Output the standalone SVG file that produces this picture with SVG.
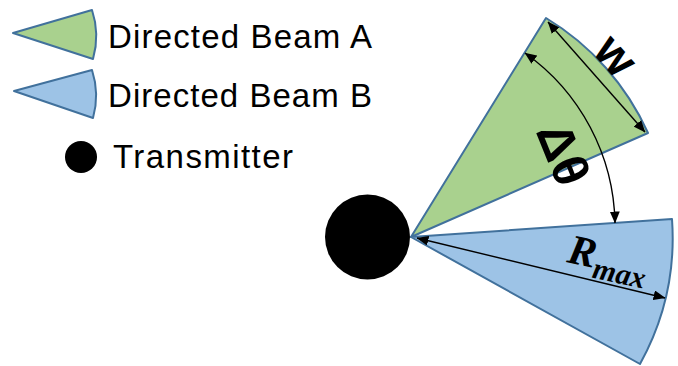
<svg xmlns="http://www.w3.org/2000/svg" width="678" height="366" viewBox="0 0 678 366">
<style>
.leg{font-family:"Liberation Sans","Open Sans",Arial,sans-serif;font-size:33px;fill:#000}
.beamA{fill:#A9D18E;stroke:#41719C;stroke-width:2;stroke-linejoin:round}
.beamB{fill:#9DC3E6;stroke:#41719C;stroke-width:2;stroke-linejoin:round}
.dim{fill:none;stroke:#000;stroke-width:1.4}
.sym{font-family:"Liberation Serif","DejaVu Serif",serif;font-weight:bold;fill:#000}
</style>
<defs>
<marker id="ah" viewBox="0 0 12 10" refX="11.5" refY="5" markerWidth="12" markerHeight="10" markerUnits="userSpaceOnUse" orient="auto-start-reverse">
<path d="M0,0 L12,5 L0,10 z" fill="#000"/>
</marker>
</defs>
<rect width="678" height="366" fill="#fff"/>
<g id="legend">
<g id="legend-beam-a">
<path class="beamA" d="M13,33 L92,10 A83,83 0 0 1 93,59 Z"/>
<text class="leg" x="108" y="48" textLength="264">Directed Beam A</text>
</g>
<g id="legend-beam-b">
<path class="beamB" d="M14,91 L92,70 A83,83 0 0 1 93,118 Z"/>
<text class="leg" x="108" y="107" textLength="264">Directed Beam B</text>
</g>
<g id="legend-transmitter">
<circle cx="81" cy="157" r="16" fill="#000"/>
<text class="leg" x="113" y="168" textLength="180">Transmitter</text>
</g>
</g>
<g id="beam-a">
<path class="beamA" d="M411,237 L546,18 A258,258 0 0 1 648,133 Z"/>
</g>
<g id="beam-b">
<path class="beamB" d="M411,237 L672,219 A261,261 0 0 1 640,364 Z"/>
</g>
<g id="transmitter">
<circle cx="367.5" cy="237" r="42.5" fill="#000"/>
</g>
<g id="connectors">
<path class="dim" d="M548,22 L645,132" marker-start="url(#ah)" marker-end="url(#ah)"/>
<path class="dim" d="M525,53 A213.5,213.5 0 0 1 615,223" marker-start="url(#ah)" marker-end="url(#ah)"/>
<path class="dim" d="M417,238 L665,298" marker-start="url(#ah)" marker-end="url(#ah)"/>
</g>
<g id="labels">
<text font-family="'Liberation Sans',Arial,sans-serif" font-weight="bold" font-size="48" transform="translate(612,59) rotate(48.6)" text-anchor="middle" dy="11">w</text>
<text font-family="'Liberation Sans',Arial,sans-serif" font-weight="bold" font-size="50" transform="translate(563,154) rotate(68)" text-anchor="middle" dy="17">Δθ</text>
<g transform="translate(566,262) rotate(12)">
<text class="sym" font-style="italic" font-size="42" x="0" y="0">R<tspan font-size="30" dy="10">max</tspan></text>
</g>
</g>
</svg>
